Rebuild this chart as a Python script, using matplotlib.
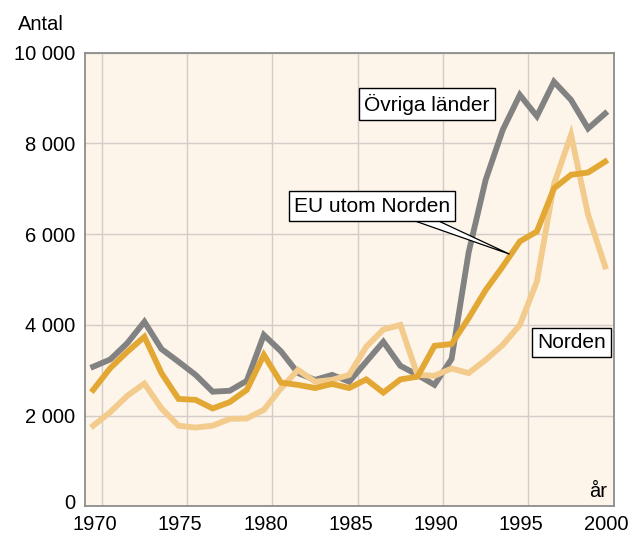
import matplotlib
matplotlib.use("Agg")
import matplotlib.pyplot as plt
import matplotlib.transforms as mtransforms
from matplotlib.patches import Polygon
from matplotlib.ticker import FuncFormatter

plt.rcParams['font.family'] = ['Liberation Sans', 'DejaVu Sans']

years = list(range(1969, 2000))
ovriga = [3080, 3240, 3600, 4070, 3470, 3190, 2900, 2530, 2550, 2770,
          3780, 3420, 2940, 2790, 2900, 2750, 3190, 3630, 3100, 2900,
          2680, 3250, 5600, 7200, 8300, 9070, 8600, 9360, 8960, 8330, 8660]
eu = [2570, 3050, 3410, 3740, 2940, 2370, 2350, 2160, 2300, 2570,
      3340, 2730, 2680, 2610, 2700, 2610, 2800, 2510, 2800, 2860,
      3540, 3580, 4150, 4770, 5290, 5840, 6060, 7010, 7310, 7360, 7600]
norden = [1780, 2080, 2440, 2710, 2160, 1780, 1740, 1780, 1930, 1940,
          2130, 2600, 3010, 2750, 2790, 2900, 3520, 3900, 4000, 2900,
          2880, 3040, 2940, 3230, 3560, 4000, 4960, 7100, 8190, 6430, 5290]
x_ticks = [1970, 1975, 1980, 1985, 1990, 1995, 2000]
y_ticks = [0, 2000, 4000, 6000, 8000, 10000]

fig = plt.figure(figsize=(6.3, 5.35), dpi=100)
ax = fig.add_axes([0.1344, 0.0533, 0.9741 - 0.1344, 0.9015 - 0.0533])
ax.set_facecolor('#FDF4EA')

xs = [y + 0.5 for y in years]
ax.plot(xs, ovriga, color='#828282', lw=4.2, solid_joinstyle='miter', zorder=3)
ax.plot(xs, norden, color='#F2CB8D', lw=4.2, solid_joinstyle='miter', zorder=4)
ax.plot(xs, eu, color='#E3A733', lw=4.2, solid_joinstyle='miter', zorder=5)

ax.set_xlim(1969, 2000)
ax.set_ylim(0, 10000)
ax.set_xticks(x_ticks)
ax.set_yticks(y_ticks)
ax.yaxis.set_major_formatter(FuncFormatter(lambda v, p: f"{int(v):,}".replace(",", " ")))
ax.grid(True, color='#D2CDC8', lw=1.0, zorder=1)
ax.set_axisbelow(True)
ax.tick_params(length=0, labelsize=14.5, colors='black')
ax.tick_params(axis='y', pad=7)
ax.tick_params(axis='x', pad=6)

shift = mtransforms.ScaledTranslation(-7 / 100, 0, fig.dpi_scale_trans)
for lab in ax.get_xticklabels():
    lab.set_transform(lab.get_transform() + shift)
ylabs = ax.get_yticklabels()
up = mtransforms.ScaledTranslation(0, 5 / 100, fig.dpi_scale_trans)
ylabs[0].set_transform(ylabs[0].get_transform() + up)

for s in ax.spines.values():
    s.set_color('#8C8C8C')
    s.set_linewidth(1.3)

fig.text(18 / 630, 1 - 25 / 535, "Antal", fontsize=14.5, ha='left', va='center')
ax.text(0.987, 0.02, "år", transform=ax.transAxes, fontsize=14.5, ha='right', va='baseline')

bbox = dict(boxstyle='square,pad=0.25', fc='white', ec='black', lw=1.0)
ax.text(1989.05, 8870, "Övriga länder", fontsize=15, ha='center', va='center', bbox=bbox, zorder=7)
ax.text(1985.83, 6620, "EU utom Norden", fontsize=15, ha='center', va='center', bbox=bbox, zorder=8)
ax.text(1997.55, 3610, "Norden", fontsize=15, ha='center', va='center', bbox=bbox, zorder=7)

wedge = Polygon([(1988.06, 6330), (1989.52, 6330), (1993.9, 5560)], closed=True,
                fc='white', ec='black', lw=0.9, zorder=6)
ax.add_patch(wedge)

fig.savefig("out.png", dpi=100)
